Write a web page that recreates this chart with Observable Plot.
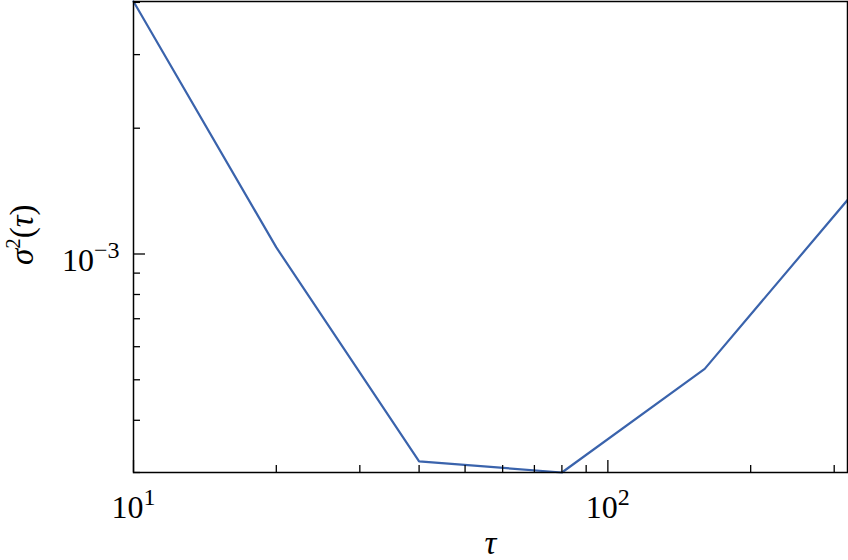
<!DOCTYPE html>
<html><head><meta charset="utf-8">
<script src="https://cdn.jsdelivr.net/npm/d3@7"></script>
<script src="https://cdn.jsdelivr.net/npm/@observablehq/plot@0.6"></script>
<style>body{margin:0;background:#fff} svg{display:block} svg text{font-family:"Liberation Serif","Times New Roman",serif !important}</style>
</head><body><div id="chart"></div>
<script>
// data
const tau = [10, 20, 40, 80, 160, 320];
const sigma2 = [4.02e-3, 1.037e-3, 3.19e-4, 3.0e-4, 5.31e-4, 1.346e-3];
const xMajorTicks = [10, 100];
const xMinorTicks = [20, 30, 40, 50, 60, 70, 80, 90, 200, 300];
const yMajorTicks = [1e-3];
const yMinorTicks = [3e-4, 4e-4, 5e-4, 6e-4, 7e-4, 8e-4, 9e-4, 2e-3, 3e-3, 4e-3];
const xTickLabels = ["10^1", "10^2"];
const yTickLabels = ["10^-3"];
const xLabel = "τ";
const yLabel = "σ^2(τ)";

const W = 848, H = 560, mL = 133, mR = 1, mT = 1, mB = 88;
const plotW = W - mL - mR, plotH = H - mT - mB;
const data = tau.map((t, i) => ({tau: t, s: sigma2[i]}));
const font = "Liberation Serif";

const chart = Plot.plot({
  width: W, height: H,
  marginLeft: mL, marginRight: mR, marginTop: mT, marginBottom: mB,
  style: {fontFamily: font, background: "#fff", color: "#000"},
  x: {type: "log", domain: [10, 320], axis: null},
  y: {type: "log", domain: [3.0e-4, 4.02e-3], axis: null},
  marks: [
    Plot.line(data, {x: "tau", y: "s", stroke: "#3a63ac", strokeWidth: 2.2}),
    Plot.tickX(xMinorTicks, {x: d => d, insetTop: plotH - 7, stroke: "#000", strokeWidth: 1.3}),
    Plot.tickX(xMajorTicks, {x: d => d, insetTop: plotH - 12, stroke: "#000", strokeWidth: 1.3}),
    Plot.tickY(yMinorTicks, {y: d => d, insetRight: plotW - 7, stroke: "#000", strokeWidth: 1.3}),
    Plot.tickY(yMajorTicks, {y: d => d, insetRight: plotW - 12, stroke: "#000", strokeWidth: 1.3}),
    Plot.frame({stroke: "#000", strokeWidth: 1.5}),
    Plot.text(xMajorTicks, {x: d => d, text: (d, i) => xTickLabels[i], frameAnchor: "bottom",
      lineAnchor: "bottom", dy: 45, fontSize: 32, fill: "#000"}),
    Plot.text(yMajorTicks, {y: d => d, text: (d, i) => yTickLabels[i], frameAnchor: "left",
      textAnchor: "end", lineAnchor: "bottom", dx: -14, dy: 17.5, fontSize: 32, fill: "#000"}),
    Plot.text([xLabel], {text: d => d, frameAnchor: "bottom", lineAnchor: "bottom", dy: 81,
      fontSize: 33, fill: "#000"}),
    Plot.text([yLabel], {text: d => d, frameAnchor: "left", rotate: -90, lineAnchor: "bottom",
      dx: -101, dy: 28, fontSize: 33, fill: "#000"})
  ]
});

// render superscripts and italic Greek letters as tspans
const NS = "http://www.w3.org/2000/svg";
chart.querySelectorAll("text").forEach(t => {
  t.setAttribute("font-family", "Liberation Serif");
  const s = t.textContent;
  if (!/[\^\u0370-\u03ff]/.test(s)) return;
  const isLabel = /[\u0370-\u03ff]/.test(s);
  while (t.firstChild) t.removeChild(t.firstChild);
  let i = 0;
  let raised = false;
  while (i < s.length) {
    const span = document.createElementNS(NS, "tspan");
    if (s[i] === "^") {
      let j = i + 1, sup = "";
      while (j < s.length && /[0-9\-]/.test(s[j])) { sup += s[j]; j++; }
      span.textContent = sup.replace("-", "\u2212");
      span.setAttribute("font-size", isLabel ? "21" : "24");
      span.setAttribute("dy", "-13");
      raised = true;
      i = j;
    } else {
      span.textContent = s[i];
      if (/[\u0370-\u03ff]/.test(s[i])) span.setAttribute("font-style", "italic");
      if (raised) { span.setAttribute("dy", "13"); raised = false; }
      i++;
    }
    t.appendChild(span);
  }
});
document.getElementById("chart").appendChild(chart);
</script>
</body></html>
